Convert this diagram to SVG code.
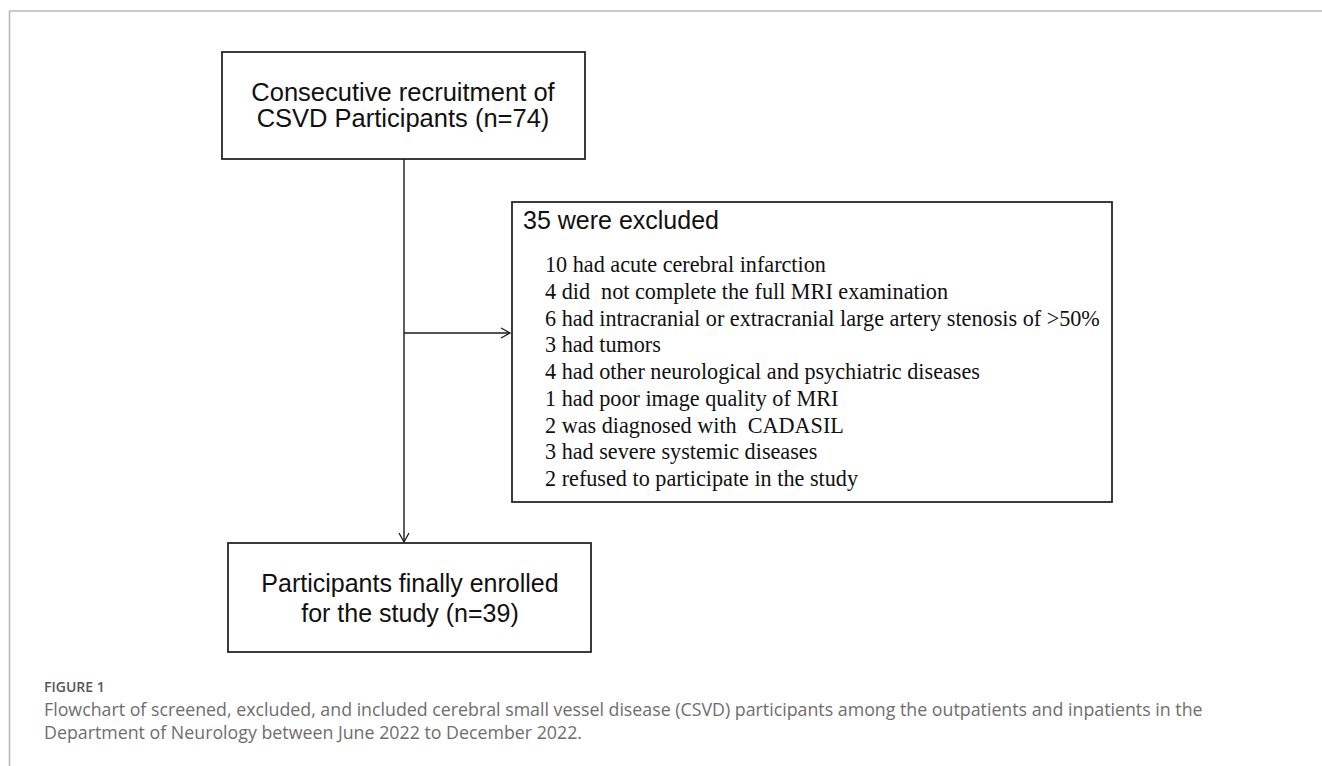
<svg xmlns="http://www.w3.org/2000/svg" width="1322" height="766" viewBox="0 0 1322 766">
<defs>
<marker id="arr" markerWidth="12" markerHeight="12" refX="10" refY="6" orient="auto" markerUnits="userSpaceOnUse">
<path d="M1,1 L10,6 L1,11" fill="none" stroke="#1a1a1a" stroke-width="1.3"/>
</marker>
<style>
.box{fill:#fff;stroke:#262626;stroke-width:1.8}
.sans{font-family:"Liberation Sans",Arial,sans-serif;fill:#111}
.serif{font-family:"Liberation Serif","Times New Roman",serif;fill:#111;font-size:22.2px}
.conn{stroke:#1a1a1a;stroke-width:1.4;fill:none}
.cap{font-family:"Open Sans","Noto Sans",sans-serif;fill:#6e6e6e;font-size:17.8px}
</style>
</defs>
<rect width="1322" height="766" fill="#fff"/>
<g id="frame">
<line x1="9" y1="11" x2="1322" y2="11" stroke="#b8b8b8" stroke-width="1.6"/>
<line x1="9.5" y1="11" x2="9.5" y2="766" stroke="#b8b8b8" stroke-width="1.6"/>
</g>
<g id="connectors">
<line class="conn" x1="404" y1="159" x2="404" y2="542" marker-end="url(#arr)"/>
<line class="conn" x1="404" y1="333" x2="510" y2="333" marker-end="url(#arr)"/>
</g>
<g id="node-recruitment">
<rect class="box" x="222" y="52" width="363" height="107"/>
<text class="sans" font-size="25.5" text-anchor="middle" x="403" y="100.5">Consecutive recruitment of</text>
<text class="sans" font-size="25.5" text-anchor="middle" x="403" y="127">CSVD Participants (n=74)</text>
</g>
<g id="node-excluded">
<rect class="box" x="512" y="202" width="600" height="300"/>
<text class="sans" font-size="25" x="523" y="229">35 were excluded</text>
<text class="serif" x="545" y="272">10 had acute cerebral infarction</text>
<text class="serif" x="545" y="298.75" xml:space="preserve">4 did  not complete the full MRI examination</text>
<text class="serif" x="545" y="325.5">6 had intracranial or extracranial large artery stenosis of &gt;50%</text>
<text class="serif" x="545" y="352.25">3 had tumors</text>
<text class="serif" x="545" y="379">4 had other neurological and psychiatric diseases</text>
<text class="serif" x="545" y="405.75">1 had poor image quality of MRI</text>
<text class="serif" x="545" y="432.5" xml:space="preserve">2 was diagnosed with  CADASIL</text>
<text class="serif" x="545" y="459.25">3 had severe systemic diseases</text>
<text class="serif" x="545" y="486">2 refused to participate in the study</text>
</g>
<g id="node-enrolled">
<rect class="box" x="228" y="543" width="363" height="109"/>
<text class="sans" font-size="25" text-anchor="middle" x="410" y="591.5">Participants finally enrolled</text>
<text class="sans" font-size="25" text-anchor="middle" x="410" y="621.5">for the study (n=39)</text>
</g>
<g id="caption">
<text x="44" y="692" font-family="'Open Sans','Noto Sans',sans-serif" font-size="14" font-weight="600" fill="#575757">FIGURE 1</text>
<text class="cap" x="44" y="716">Flowchart of screened, excluded, and included cerebral small vessel disease (CSVD) participants among the outpatients and inpatients in the</text>
<text class="cap" x="44" y="739">Department of Neurology between June 2022 to December 2022.</text>
</g>
</svg>
